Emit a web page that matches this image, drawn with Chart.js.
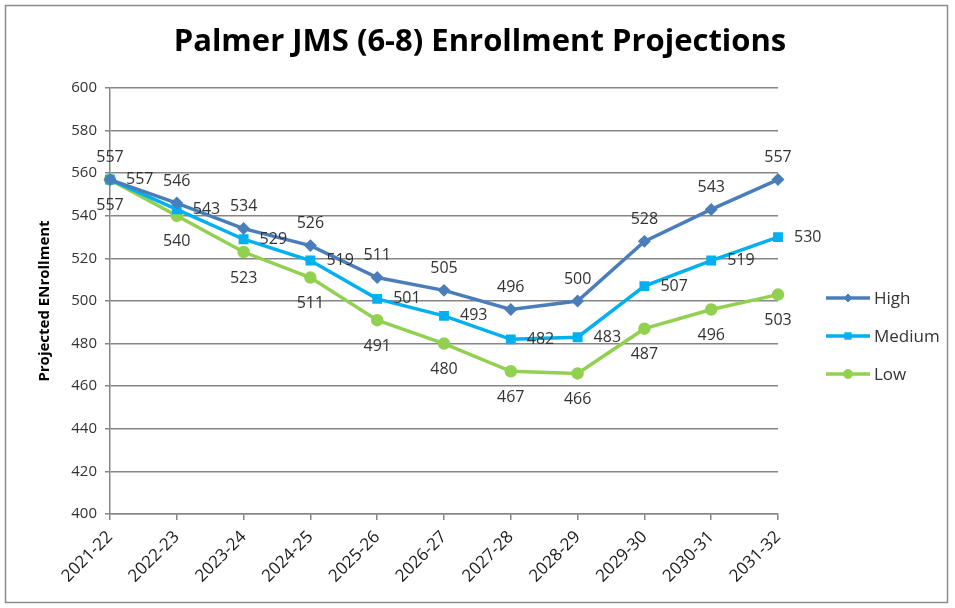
<!DOCTYPE html>
<html>
<head>
<meta charset="utf-8">
<script src="https://cdn.jsdelivr.net/npm/chart.js@4.4.1/dist/chart.umd.min.js"></script>
<style>
  html, body { margin: 0; padding: 0; background: #fff; }
  #wrap { width: 955px; height: 608px; position: relative; }
</style>
</head>
<body>
<div id="wrap"><canvas id="enrollChart" width="955" height="608"></canvas></div>
<script>
// Palmer JMS enrollment projections

const years = ['2021-22', '2022-23', '2023-24', '2024-25', '2025-26', '2026-27',
               '2027-28', '2028-29', '2029-30', '2030-31', '2031-32'];
const highVals   = [557, 546, 534, 526, 511, 505, 496, 500, 528, 543, 557];
const mediumVals = [557, 543, 529, 519, 501, 493, 482, 483, 507, 519, 530];
const lowVals    = [557, 540, 523, 511, 491, 480, 467, 466, 487, 496, 503];
const yMin = 400, yMax = 600, yStep = 20;

const FONT = "'Open Sans', 'Noto Sans', sans-serif";
const TEXT = '#333333';
const TITLE = 'Palmer JMS (6-8) Enrollment Projections';

// where each series puts its number labels
const labelPos = { High: 'above', Medium: 'right', Low: 'below' };

// ─── Data labels ─────────────────────────────────────────────────────────────
const pointLabels = {
  id: 'pointLabels',
  afterDatasetsDraw(chart) {
    const ctx = chart.ctx;
    ctx.save();
    ctx.font = '16px ' + FONT;
    ctx.fillStyle = TEXT;
    chart.data.datasets.forEach((ds, i) => {
      const meta = chart.getDatasetMeta(i);
      meta.data.forEach((pt, j) => {
        const pos = labelPos[ds.label];
        let x = pt.x, y = pt.y;
        ctx.textBaseline = 'middle';
        if (pos === 'above') { ctx.textAlign = 'center'; y -= 22; }
        else if (pos === 'below') { ctx.textAlign = 'center'; y += 26; }
        else { ctx.textAlign = 'left'; x += 16; }
        ctx.fillText(ds.data[j], x, y);
      });
    });
    ctx.restore();
  }
};

// ─── Title + legend (line + marker, right side) ─────────────────────────────
const decorations = {
  id: 'decorations',
  afterDraw(chart) {
    const ctx = chart.ctx;
    ctx.save();
    ctx.fillStyle = '#000';
    ctx.font = 'bold 31px ' + FONT;
    ctx.textAlign = 'center';
    ctx.textBaseline = 'middle';
    ctx.fillText(TITLE, 480, 42);

    chart.data.datasets.forEach((ds, i) => {
      const y = 298 + i * 38;
      const x0 = 826, x1 = 870;
      ctx.strokeStyle = ds.borderColor;
      ctx.lineWidth = 3.5;
      ctx.beginPath(); ctx.moveTo(x0, y); ctx.lineTo(x1, y); ctx.stroke();
      ctx.fillStyle = ds.borderColor;
      ctx.lineWidth = 1;
      Chart.helpers.drawPoint(ctx, { pointStyle: ds.pointStyle, radius: ds.pointRadius, rotation: 0, borderWidth: 1 }, (x0 + x1) / 2, y);
      ctx.fillStyle = TEXT;
      ctx.font = '17px ' + FONT;
      ctx.textAlign = 'left';
      ctx.textBaseline = 'middle';
      ctx.fillText(ds.label, x1 + 4, y + 1);
    });
    ctx.restore();
  }
};

// ─── Outer frame ────────────────────────────────────────────────────────────
const frame = {
  id: 'frame',
  beforeDraw(chart) {
    const ctx = chart.ctx;
    ctx.save();
    ctx.fillStyle = '#fff';
    ctx.fillRect(0, 0, chart.width, chart.height);
    ctx.strokeStyle = '#8c8c8c';
    ctx.lineWidth = 1.5;
    ctx.strokeRect(5.5, 5.5, 942, 597);
    ctx.restore();
  }
};

function series(label, data, color, style, radius) {
  return {
    label, data,
    borderColor: color,
    backgroundColor: color,
    borderWidth: 3.5,
    pointStyle: style,
    pointRadius: radius,
    pointHoverRadius: radius,
    pointBackgroundColor: color,
    pointBorderColor: color,
    tension: 0,
  };
}

new Chart(document.getElementById('enrollChart'), {
  type: 'line',
  data: {
    labels: years,
    datasets: [
      series('High', highVals, '#4a7ebb', 'rectRot', 4),
      series('Medium', mediumVals, '#00b0f0', 'rect', 4.5),
      series('Low', lowVals, '#92d050', 'circle', 4.5),
    ],
  },
  options: {
    responsive: false,
    animation: false,
    layout: { padding: { left: 0, right: 177, top: 88, bottom: 0 } },
    plugins: {
      legend: { display: false },
      tooltip: { enabled: false },
      title: { display: false },
    },
    scales: {
      x: {
        offset: false,
        grid: { drawOnChartArea: false, drawTicks: true, tickLength: 6, color: '#868686', lineWidth: 1.5 },
        border: { color: '#868686', width: 1.5 },
        ticks: { color: '#1a1a1a', font: { family: FONT, size: 17 }, maxRotation: 45, minRotation: 45, padding: 7 },
        afterFit(s) { s.height = 94; },
      },
      y: {
        min: yMin, max: yMax,
        grid: { color: '#868686', lineWidth: 1.5, tickLength: 5 },
        border: { color: '#868686', width: 1.5 },
        ticks: { stepSize: yStep, color: TEXT, font: { family: FONT, size: 15 }, padding: 8 },
        title: {
          display: true, text: 'Projected ENrollment', color: '#000',
          font: { family: FONT, size: 15, weight: 'bold' }, padding: { top: 36, bottom: 6 },
        },
        afterFit(s) { s.width = 110; },
      },
    },
  },
  plugins: [frame, pointLabels, decorations],
});
</script>
</body>
</html>
